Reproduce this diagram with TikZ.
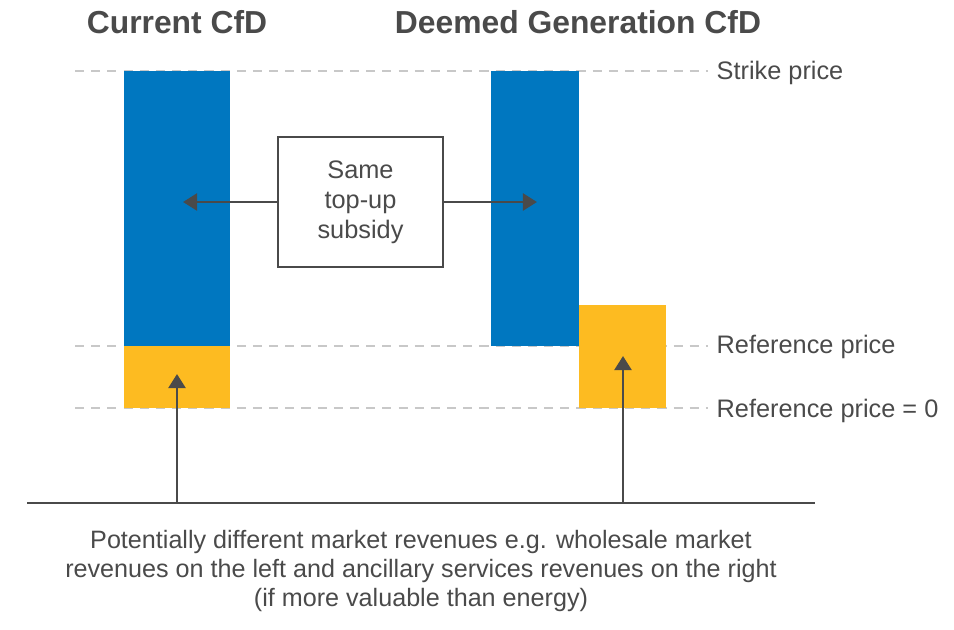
\documentclass[tikz,border=0pt]{standalone}
\usepackage{fontspec}
\setmainfont{Liberation Sans}
\usetikzlibrary{arrows.meta}
\definecolor{cfdblue}{HTML}{0077C0}
\definecolor{cfdyellow}{HTML}{FDBB21}
\definecolor{ink}{HTML}{4A4A4A}
\definecolor{guide}{HTML}{C8C8C8}
\tikzset{
  guideline/.style={draw=guide, line width=0.6pt, dash pattern=on 2.6pt off 2pt},
  bluebar/.style={fill=cfdblue, draw=none},
  yellowbar/.style={fill=cfdyellow, draw=none},
  conn/.style={draw=ink, line width=0.8pt, -{Triangle[length=4pt,width=4.8pt]}},
  baseline/.style={draw=ink, line width=0.8pt},
  title/.style={font=\fontsize{9.05}{10}\selectfont\bfseries, text=ink, inner sep=0pt},
  label/.style={font=\fontsize{7.2}{8.5}\selectfont, text=ink, inner sep=0pt},
  subsidybox/.style={draw=ink, line width=0.7pt, fill=white, minimum width=165*0.01cm, minimum height=130*0.01cm, align=center, font=\fontsize{7.2}{8.5}\selectfont, text=ink, inner sep=0pt}
}
\begin{document}
\begin{tikzpicture}[x=0.01cm, y=-0.01cm]
\useasboundingbox (0,0) rectangle (954,630);

% price guide lines
\coordinate (s0) at (75,71);   \coordinate (s1) at (708,71);
\coordinate (r0) at (75,346);  \coordinate (r1) at (708,346);
\coordinate (z0) at (75,408);  \coordinate (z1) at (708,408);
\draw[guideline] (s0) -- (s1);
\draw[guideline] (r0) -- (r1);
\draw[guideline] (z0) -- (z1);

% bars
\path[bluebar] (124,71) rectangle (230,346);
\path[yellowbar] (124,346) rectangle (230,408);
\path[bluebar] (491,71) rectangle (579,346);
\path[yellowbar] (579,305) rectangle (666,408);

% titles
\node[title] (t1) at (177,22) {Current CfD};
\node[title] (t2) at (578,22) {Deemed Generation CfD};

% price labels
\node[label, anchor=mid west] (lstrike) at (716,70) {Strike price};
\node[label, anchor=mid west] (lref) at (716,344) {Reference price};
\node[label, anchor=mid west] (lzero) at (716,408) {Reference price = 0};

% subsidy box and arrows
\node[subsidybox] (box) at (360.5,202) {Same\\top-up\\subsidy};
\coordinate (la) at (183,202);
\coordinate (ra) at (537,202);
\draw[conn] (box.west) -- (la);
\draw[conn] (box.east) -- (ra);

% market revenue axis
\coordinate (ax0) at (27,503);
\coordinate (ax1) at (815,503);
\draw[baseline] (ax0) -- (ax1);
\coordinate (lb) at (177,503);
\coordinate (lt) at (177,374);
\coordinate (rb) at (623,503);
\coordinate (rt) at (623,356);
\draw[conn] (lb) -- (lt);
\draw[conn] (rb) -- (rt);

% caption
\node[label, align=center, font=\fontsize{7.15}{8.25}\selectfont] (cap) at (421,571)
  {Potentially different market revenues e.g. wholesale market\\
   revenues on the left and ancillary services revenues on the right\\
   (if more valuable than energy)};
\end{tikzpicture}
\end{document}
